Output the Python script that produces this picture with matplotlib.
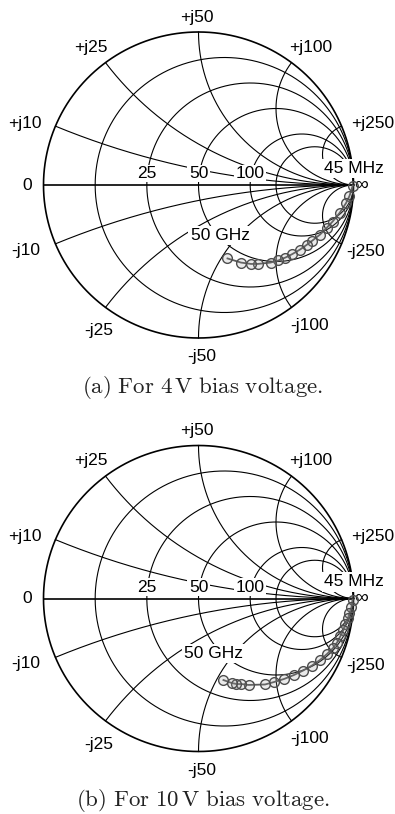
import numpy as np
import matplotlib
matplotlib.use('Agg')
import matplotlib.pyplot as plt

plt.rcParams['font.family'] = ['Liberation Sans', 'DejaVu Sans']
plt.rcParams['mathtext.fontset'] = 'cm'

Z0 = 50  # reference impedance (ohm)

# grid values in ohm
res_grid = [10, 25, 50, 100, 150]
react_grid = [10, 25, 50, 100, 250]
res_labels = [25, 50, 100]

# measured S11, 45 MHz -> 50 GHz, 4 V bias
s11_4v_re = [0.995, 0.974, 0.952, 0.910, 0.865, 0.826, 0.784, 0.735, 0.697,
             0.655, 0.606, 0.561, 0.516, 0.465, 0.381, 0.339, 0.274, 0.187]
s11_4v_im = [-0.004, -0.072, -0.118, -0.183, -0.239, -0.281, -0.324, -0.363, -0.392,
             -0.422, -0.451, -0.474, -0.493, -0.507, -0.516, -0.516, -0.507, -0.480]

# measured S11, 45 MHz -> 50 GHz, 10 V bias
s11_10v_re = [0.994, 0.987, 0.974, 0.965, 0.948, 0.935, 0.916, 0.894, 0.868, 0.829, 0.784,
              0.732, 0.674, 0.616, 0.552, 0.487, 0.429, 0.323, 0.277, 0.245, 0.213, 0.161]
s11_10v_im = [-0.007, -0.056, -0.095, -0.127, -0.167, -0.206, -0.245, -0.288, -0.324, -0.363, -0.402,
              -0.438, -0.471, -0.500, -0.526, -0.546, -0.562, -0.565, -0.559, -0.559, -0.552, -0.533]

f_start = '45 MHz'
f_stop = '50 GHz'
captions = [r'$\mathrm{(a)\ For\ 4\,V\ bias\ voltage.}$',
            r'$\mathrm{(b)\ For\ 10\,V\ bias\ voltage.}$']

# label positions (reflection plane) for the reactance labels, +j then -j
pos_pos = [(-1.119, 0.402), (-0.694, 0.899), (-0.010, 1.095), (0.726, 0.899), (1.126, 0.402)]
pos_neg = [(-1.113, -0.425), (-0.642, -0.954), (0.019, -1.121), (0.719, -0.918), (1.081, -0.435)]


def gamma(z):
    return (z - 1) / (z + 1)


def smith_grid(ax):
    # resistance circles
    t = np.tan(np.linspace(-np.pi / 2, np.pi / 2, 3001)[1:-1])
    for R in res_grid:
        g = gamma(R / Z0 + 1j * t)
        ax.plot(np.r_[1, g.real, 1], np.r_[0, g.imag, 0], color='k', lw=0.8, zorder=1)
    # reactance arcs
    s = np.tan(np.linspace(0, np.pi / 2, 2001)[:-1])
    for X in react_grid:
        for sign in (1, -1):
            g = gamma(s + 1j * sign * X / Z0)
            ax.plot(np.r_[g.real, 1], np.r_[g.imag, 0], color='k', lw=0.8, zorder=1)
    th = np.linspace(0, 2 * np.pi, 721)
    ax.plot(np.cos(th), np.sin(th), color='k', lw=1.2, zorder=1)
    ax.plot([-1, 1], [0, 0], color='k', lw=1.2, zorder=1)

    box = dict(boxstyle='square,pad=0.08', fc='white', ec='none')
    for R in res_labels:
        gx = gamma(R / Z0)
        ax.text(gx, 0.075, str(R), ha='center', va='center', fontsize=12.5,
                bbox=box, zorder=3)
    for X, p, n in zip(react_grid, pos_pos, pos_neg):
        ax.text(p[0], p[1], '+j%d' % X, ha='center', va='center', fontsize=12.5, zorder=3)
        ax.text(n[0], n[1], '-j%d' % X, ha='center', va='center', fontsize=12.5, zorder=3)
    ax.text(-1.106, 0, '0', ha='center', va='center', fontsize=12.5, zorder=3)
    ax.text(1.05, 0.0, '\u221e', ha='center', va='center', fontsize=14, zorder=3)


fig = plt.figure(figsize=(3.95, 8.14), dpi=100)
H = 814.0
sets = [(s11_4v_re, s11_4v_im, 185.0, (0.139, -0.330)),
        (s11_10v_re, s11_10v_im, 598.5, (0.095, -0.359))]

for i, (re, im, cy, stop_pos) in enumerate(sets):
    ax = fig.add_axes([0, 1 - (cy + 185) / H, 1, 370 / H])
    ax.set_xlim(-198.5 / 155, 196.5 / 155)
    ax.set_ylim(-185 / 153, 185 / 153)
    ax.axis('off')
    smith_grid(ax)

    box = dict(boxstyle='square,pad=0.12', fc='white', ec='none')
    ax.text(1.003, 0.108, f_start, ha='center', va='center', fontsize=12.5, bbox=box, zorder=3)
    ax.text(stop_pos[0], stop_pos[1], f_stop, ha='center', va='center', fontsize=12.5,
            bbox=box, zorder=3)

    ax.plot(re, im, color='0.35', lw=1.3, marker='o', ms=7, mew=1.0,
            mec='0.3', mfc=(0.6, 0.6, 0.6, 0.2), zorder=4)

    fig.text(0.513, 1 - (cy + 202.5) / H, captions[i], ha='center', va='center',
             fontsize=16.5, color='#222222')

fig.savefig('out.png', dpi=100, facecolor='white')
